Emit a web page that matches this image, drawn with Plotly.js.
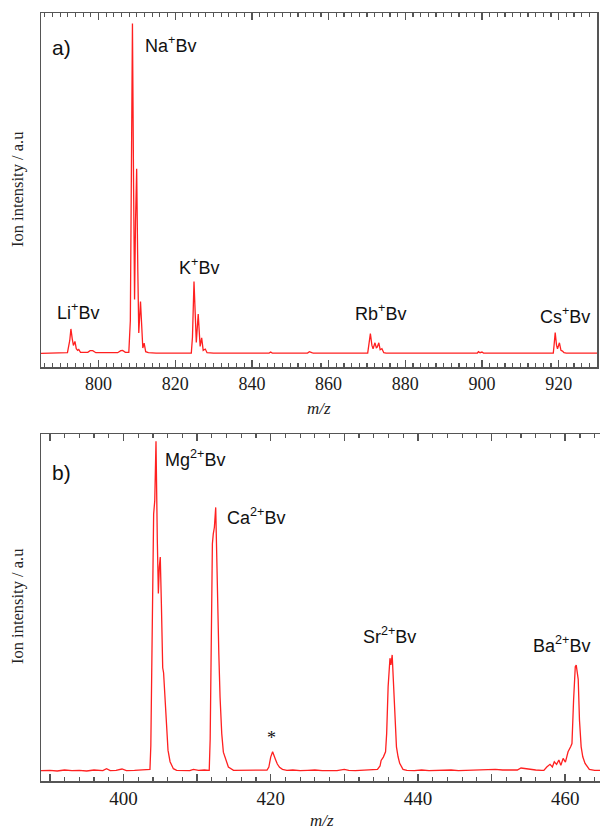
<!DOCTYPE html>
<html>
<head>
<meta charset="utf-8">
<script src="https://cdn.plot.ly/plotly-3.0.1.min.js"></script>
<style>
  html, body { margin: 0; padding: 0; overflow: hidden; background: #fff; }
  #panelA { width: 600px; height: 418px; }
  #panelB { width: 606px; height: 415px; }
</style>
</head>
<body>
<div id="panelA"></div>
<div id="panelB"></div>
<script>
// Panel a) — singly charged alkali adducts, m/z vs. ion intensity (Na+ peak = 100)
const monoMz = [
  785, 790, 791.9, 792.5, 792.8, 793.15, 793.45, 793.85, 794.2, 794.55, 794.85, 795.3,
  797.2, 797.8, 798.5, 799.3, 805.0, 805.8, 806.3, 807.0, 807.9,
  808.3, 808.6, 808.85, 809.15, 809.4, 809.65, 809.95, 810.25, 810.5, 810.95, 811.3, 811.55, 811.9, 812.3, 813, 815,
  824.2, 824.5, 824.9, 825.25, 825.5, 826.0, 826.35, 826.5, 826.9, 827.3, 827.85, 828.3, 830,
  844.5, 844.9, 845.3, 854.5, 855.0, 855.6, 856,
  870.2, 870.5, 870.9, 871.3, 871.6, 872.1, 872.45, 872.7, 873.1, 873.45, 873.9, 874.4, 875,
  898.8, 899.1, 899.5, 900.0, 900.4,
  918.6, 918.8, 919.1, 919.45, 919.7, 920.2, 920.6, 921.0, 921.4, 922, 930
];
const monoInt = [
  0.1, 0.1, 0.3, 4, 7.5, 4.5, 2.5, 3.7, 1.5, 1.0, 1.3, 0.4,
  0.4, 0.9, 0.9, 0.3, 0.3, 0.9, 1.0, 0.4, 0.4,
  10, 60, 100, 50, 16.4, 40, 56, 25, 6.3, 15.8, 4, 1.7, 3.2, 0.6, 0.3, 0.2,
  0.2, 5, 21.9, 10, 3.4, 12.0, 4, 2.2, 4.8, 1.0, 1.4, 0.3, 0.2,
  0.2, 0.5, 0.2, 0.2, 0.6, 0.3, 0.2,
  0.2, 2.5, 6.1, 2.5, 1.5, 3.3, 1.8, 2.0, 3.3, 1.2, 1.5, 0.3, 0.2,
  0.2, 0.6, 0.3, 0.5, 0.2,
  0.2, 2.5, 6.4, 2.5, 1.5, 3.3, 1.0, 0.8, 0.3, 0.2, 0.2
];

// Panel b) — doubly charged alkaline-earth adducts (Mg2+ peak = 100)
const diMz = [
  388.8, 390, 391, 392, 393, 394, 395, 396, 397.2, 397.7, 398.2, 399, 399.8, 400.4, 401.5, 402.5, 403.3,
  403.6, 403.72, 403.85, 404.0, 404.1, 404.25, 404.42, 404.6, 404.74, 404.87, 405.0, 405.15, 405.33, 405.45,
  405.6, 405.87, 406.05, 406.33, 406.78, 407.23,
  408, 409, 409.5, 410.2, 411,
  411.65, 411.78, 411.95, 412.08, 412.2, 412.35, 412.53, 412.67, 412.85, 412.95, 413.12, 413.35, 413.57,
  413.93, 414.25, 414.95,
  416, 417, 418, 419, 419.5,
  419.75, 420.0, 420.26, 420.45, 420.65, 420.9, 421.2, 421.6, 422.2,
  423, 424, 425, 426, 427, 428, 429, 430, 430.6, 431.5, 432.5, 433.5,
  434.5, 434.85, 435.0, 435.3, 435.6, 435.75, 435.95, 436.2, 436.33, 436.5, 436.63, 436.85, 437.08, 437.3,
  437.52, 437.97, 438.5,
  439.5, 440.5, 441.5, 442.5, 443.5, 444.5, 445.5, 446.5, 447.5, 448.5, 449.5, 450.5, 451.5, 452.5, 453.5,
  454.0, 454.6, 455.2, 456, 456.8,
  457.1, 457.5, 457.94, 458.26, 458.52, 458.83, 459.14, 459.41, 459.72, 460.03, 460.39, 460.74, 460.92,
  461.14, 461.37, 461.5, 461.63, 461.77, 461.94, 462.17, 462.39, 462.7, 463.28, 464, 465
];
const diInt = [
  0.4, 0.5, 0.3, 0.6, 0.4, 0.5, 0.3, 0.6, 0.4, 1.0, 0.4, 0.5, 0.9, 0.4, 0.5, 0.6, 0.6,
  0.8, 8, 40, 70, 78, 82, 100, 70, 54, 62, 65, 51, 31.5, 30,
  23.7, 10.6, 6.6, 3.1, 1.0, 0.5,
  0.5, 0.4, 0.8, 0.5, 0.6,
  0.5, 10, 50, 69, 72, 74, 80, 65, 37.9, 36, 22.7, 11.6, 6.0,
  3.5, 1.5, 0.5,
  0.5, 0.4, 0.6, 0.5, 0.6,
  1.5, 4.5, 6.1, 5.2, 3.8, 2.4, 1.4, 0.8, 0.5,
  0.6, 0.4, 0.5, 0.6, 0.4, 0.5, 0.4, 0.8, 0.5, 0.4, 0.5, 0.5,
  0.8, 1.8, 3.5, 4.5, 6.1, 11.6, 25.8, 34.4, 32.4, 35.4, 29.8, 16.2, 7.6, 4.6,
  2.6, 0.8, 0.5,
  0.4, 0.6, 0.4, 0.5, 0.4, 0.6, 0.4, 0.5, 0.6, 0.5, 0.7, 0.8, 0.6, 0.5, 0.6,
  1.2, 1.0, 0.8, 0.6, 0.5,
  0.5, 1.5, 2.3, 1.5, 3.1, 2.3, 3.6, 2.0, 4.1, 3.0, 6.1, 7.6, 8.6,
  21.7, 31.8, 32.3, 29.8, 28, 15.7, 7.6, 4.6, 2.6, 0.8, 0.5, 0.5
];

// Peak labels
const monoLabels = ['Li<sup>+</sup>Bv', 'Na<sup>+</sup>Bv', 'K<sup>+</sup>Bv', 'Rb<sup>+</sup>Bv', 'Cs<sup>+</sup>Bv'];
const monoLabelMz = [788.65, 811.6, 820.5, 866.4, 914.5];
const monoLabelInt = [12.7, 93.6, 26.4, 12.4, 11.5];

const diLabels = ['Mg<sup>2+</sup>Bv', 'Ca<sup>2+</sup>Bv', '*', 'Sr<sup>2+</sup>Bv', 'Ba<sup>2+</sup>Bv'];
const diLabelMz = [405.4, 413.8, 420.05, 432.3, 455.3];
const diLabelInt = [94.8, 77.3, 10.2, 41.4, 38.4];

// Axis ticks
const monoTicks = [800, 820, 840, 860, 880, 900, 920];
const diTicks = [390, 400, 410, 420, 430, 440, 450, 460];
const diTickText = ['', '400', '', '420', '', '440', '', '460'];

const RED = '#ff2020';
const FRAME = '#555';
const SERIF = 'Liberation Serif, Times New Roman, serif';
const SANS = 'Liberation Sans, Arial, sans-serif';

function xAxisBase(range, fontSize, ticks, text) {
  const ax = {
    domain: [0, 1], range: range, showgrid: false, zeroline: false,
    showline: true, linecolor: FRAME, linewidth: 1.5, mirror: 'ticks',
    ticks: 'inside', ticklen: 7, tickwidth: 1.4, tickcolor: FRAME,
    tickmode: 'array', tickvals: ticks,
    tickfont: { family: SERIF, size: fontSize, color: '#1a1a1a' },
    minor: { dtick: 2, ticks: 'inside', ticklen: 4, tickwidth: 1.2, tickcolor: FRAME }
  };
  if (text) ax.ticktext = text;
  return ax;
}
function yAxisBase(range) {
  return {
    range: range, showline: true, mirror: true, linecolor: FRAME, linewidth: 1.5,
    ticks: '', showticklabels: false, showgrid: false, zeroline: false
  };
}

// Panel letter, y title and x title, placed in the panel's paper units
function frameTexts(letter, letterX, letterY, titleX, titleY, mzX, mzY, mzAnchor) {
  return [
    { xref: 'paper', yref: 'paper', x: letterX, y: letterY, text: letter, showarrow: false,
      xanchor: 'left', yanchor: 'middle', font: { family: SANS, size: 21, color: '#111' } },
    { xref: 'paper', yref: 'paper', x: titleX, y: titleY, text: 'Ion intensity / a.u', showarrow: false,
      textangle: -90, xanchor: 'center', yanchor: 'middle', font: { family: SERIF, size: 16.5, color: '#222' } },
    { xref: 'paper', yref: 'paper', x: mzX, y: mzY, text: '<i>m/z</i>', showarrow: false,
      xanchor: 'center', yanchor: mzAnchor, font: { family: SERIF, size: 17, color: '#222' } }
  ];
}

// ---- Panel a) ----
const annA = frameTexts('a)', 9 / 556, (367 - 47) / 354, -24 / 556, (367 - 190) / 354,
  0.5, (367 - 408) / 354, 'middle');
monoLabels.forEach((t, i) => annA.push({
  xref: 'x', yref: 'y', x: monoLabelMz[i], y: monoLabelInt[i], text: t, showarrow: false,
  xanchor: 'left', yanchor: 'middle', font: { family: SANS, size: 18, color: '#111' }
}));

Plotly.newPlot('panelA', [
  { x: monoMz, y: monoInt, type: 'scatter', mode: 'lines', line: { color: RED, width: 1.3 } }
], {
  width: 600, height: 418,
  margin: { l: 41, r: 3, t: 13, b: 51 },
  xaxis: xAxisBase([785, 930], 18, monoTicks, null),
  yaxis: yAxisBase([-4.03, 103.2]),
  annotations: annA
}, { staticPlot: true });

// ---- Panel b) ----
const annB = frameTexts('b)', 9 / 561, (363 - 54) / 347, -24 / 561, (363 - 189) / 347,
  (321.5 - 41) / 561, (363 - 414) / 347, 'bottom');
diLabels.forEach((t, i) => annB.push({
  xref: 'x', yref: 'y', x: diLabelMz[i], y: diLabelInt[i], text: t, showarrow: false,
  xanchor: t === '*' ? 'center' : 'left', yanchor: 'middle',
  font: { family: t === '*' ? SERIF : SANS, size: 18, color: '#111' }
}));

Plotly.newPlot('panelB', [
  { x: diMz, y: diInt, type: 'scatter', mode: 'lines', line: { color: RED, width: 1.3 } }
], {
  width: 606, height: 415,
  margin: { l: 41, r: 4, t: 16, b: 52 },
  xaxis: xAxisBase([388.8, 465.0], 19, diTicks, diTickText),
  yaxis: yAxisBase([-2.73, 102.2]),
  annotations: annB
}, { staticPlot: true });
</script>
</body>
</html>
